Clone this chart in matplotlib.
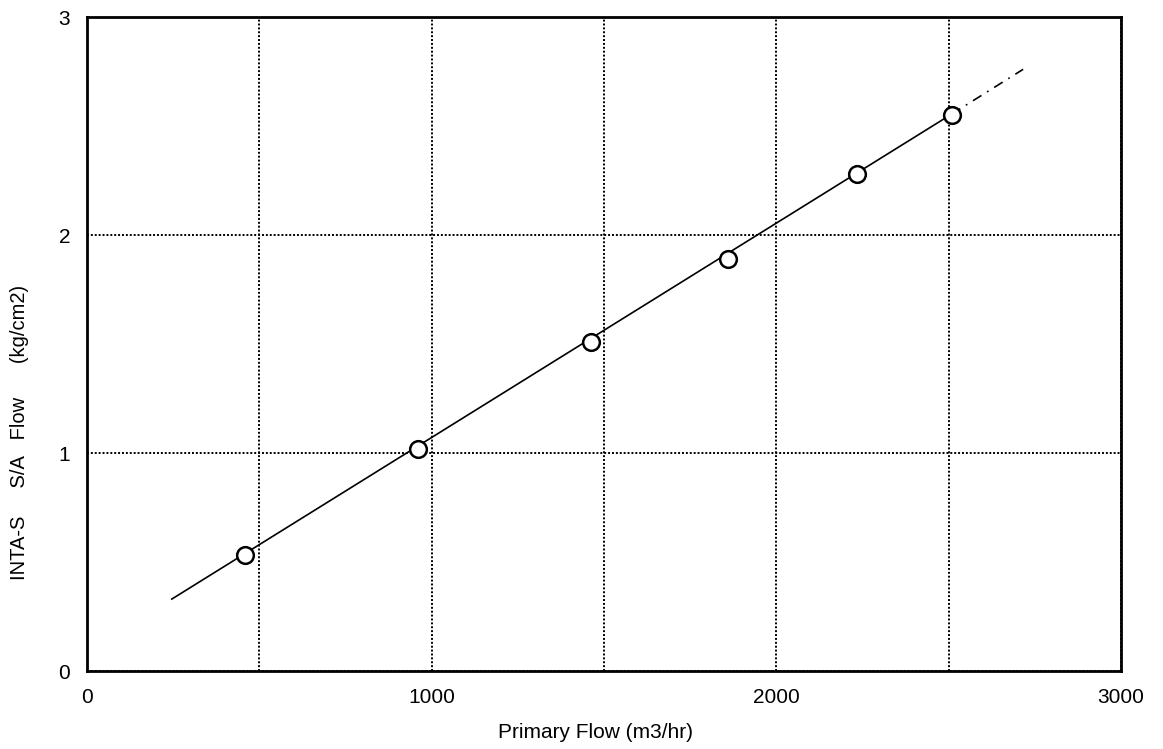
import matplotlib.pyplot as plt
from matplotlib.ticker import MultipleLocator

plt.rcParams['font.family'] = ['Liberation Sans', 'DejaVu Sans']

# measured points
primary_flow = [458, 960, 1462, 1860, 2234, 2509]
sa_flow = [0.53, 1.02, 1.51, 1.89, 2.28, 2.55]

# fitted line: solid over the data, dash-dot extrapolation beyond it
fit_x = [246, 2509]
fit_y = [0.33, 2.555]
ext_x = [2509, 2716]
ext_y = [2.555, 2.76]

x_ticks = [0, 1000, 2000, 3000]
y_ticks = [0, 1, 2, 3]

fig = plt.figure(figsize=(11.63, 7.49), dpi=100)
ax = fig.add_axes([0.0748, 0.1041, 0.8891, 0.8732])

ax.plot(fit_x, fit_y, '-', color='black', linewidth=1.2, zorder=3)
ax.plot(ext_x, ext_y, color='black', linewidth=1.2, linestyle=(0, (6, 4, 1, 4)), zorder=3)
ax.plot(primary_flow, sa_flow, 'o', markersize=12, markerfacecolor='white',
        markeredgecolor='black', markeredgewidth=1.8, zorder=4)

ax.set_xlim(0, 3000)
ax.set_ylim(0, 3)
ax.set_xticks(x_ticks)
ax.set_yticks(y_ticks)
ax.xaxis.set_minor_locator(MultipleLocator(500))
ax.tick_params(which='both', length=0)
ax.tick_params(axis='x', pad=12, labelsize=15)
ax.tick_params(axis='y', pad=12, labelsize=15)

ax.grid(True, which='both', axis='x', color='black', linestyle=(0, (1, 1)), linewidth=1.4)
ax.grid(True, which='major', axis='y', color='black', linestyle=(0, (1, 1)), linewidth=1.4)

for s in ax.spines.values():
    s.set_linewidth(2)
    s.set_zorder(5)

fig.text(595 / 1163, 1 - 733 / 749, 'Primary Flow (m3/hr)', fontsize=15,
         ha='center', va='center')
fig.text(20 / 1163, 1 - 432 / 749, 'INTA-S     S/A   Flow      (kg/cm2)', rotation=90,
         fontsize=14.5, ha='center', va='center')

fig.savefig('out.png', dpi=100)
